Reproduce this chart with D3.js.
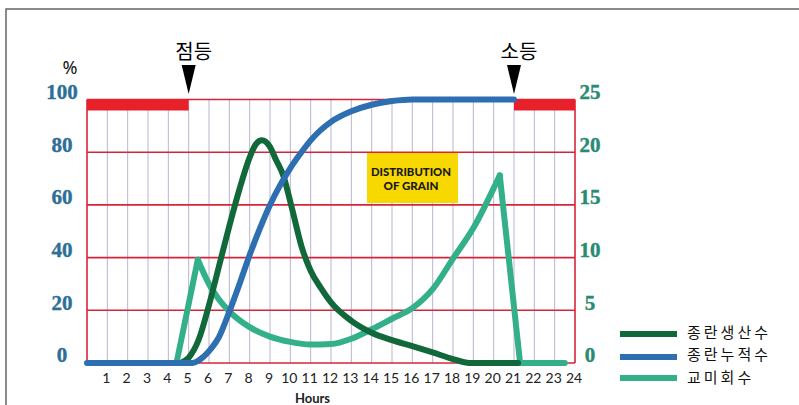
<!DOCTYPE html>
<html><head><meta charset="utf-8">
<script src="https://cdn.jsdelivr.net/npm/d3@7"></script>
<style>
body{margin:0;background:#fff;}
svg{display:block;}
</style></head><body>
<svg id="chart" width="799" height="405"></svg>
<script>
// ---------- data ----------
const hourTicks = d3.range(1, 25);
const pctTicks = [0, 20, 40, 60, 80, 100];
const countTicks = [0, 5, 10, 15, 20, 25];
const seriesNames = ["종란생산수", "종란누적수", "교미회수"];
const seriesColors = ["#10683b", "#2d6fb0", "#33b08a"];

// 종란생산수 (left axis, %)
const productionHours  = [4.6, 5, 5.5, 6, 6.5, 7, 7.5, 8, 8.3, 8.6, 9, 9.3, 9.66, 10.07, 10.56, 11, 11.5, 12, 13, 14, 15, 16, 17, 18, 18.8, 21.2];
const productionValues = [0, 2, 9, 22, 37, 52, 66, 78, 83, 84.5, 82, 77, 71, 59, 44, 35, 28.5, 23, 16, 11.5, 8.7, 6.4, 4, 1.5, 0, 0];

// 종란누적수 (left axis, %)
const cumulativeHours  = [0, 5.2, 5.5, 6, 6.5, 7, 7.5, 8, 8.5, 9, 9.5, 10, 10.5, 11, 12, 13, 14, 15, 16, 21];
const cumulativeValues = [0, 0, 1, 4.5, 10, 19.5, 30, 41, 51, 60, 67.5, 74, 79.5, 84.5, 91.5, 95.5, 98, 99.4, 100, 100];

// 교미회수 (right axis, 0-25)
const matingHours  = [4.4, 5.45, 6, 6.5, 7, 8, 9, 10, 11, 12, 13, 14, 15, 16, 17, 18, 19, 20.3, 21.3, 23.5];
const matingValues = [0, 9.8, 7.5, 6.0, 4.9, 3.4, 2.5, 2.0, 1.75, 1.8, 2.3, 3.2, 4.2, 5.2, 7.0, 9.9, 12.8, 17.8, 0, 0];

const lightOnHour = 5, lightOffHour = 21;
const markerLabels = ["점등", "소등"];
const boxLines = ["DISTRIBUTION", "OF GRAIN"];

// ---------- scales ----------
const svg = d3.select("#chart");
const x = d3.scaleLinear().domain([0, 24]).range([87, 575]);
const yL = d3.scaleLinear().domain([0, 100]).range([363, 99.5]);
const yR = d3.scaleLinear().domain([0, 25]).range([363, 99.5]);

// frame
svg.append("path").attr("d", "M6,405 V9 H799").attr("fill", "none")
  .attr("stroke", "#666").attr("stroke-width", 1.5);

// vertical grid
svg.append("g").selectAll("line").data(d3.range(1, 24)).join("line")
  .attr("x1", d => x(d)).attr("x2", d => x(d))
  .attr("y1", yL(100)).attr("y2", yL(0))
  .attr("stroke", "#b9b5cf").attr("stroke-width", 1);

// yellow box
svg.append("rect").attr("x", 367).attr("y", 153).attr("width", 91).attr("height", 50)
  .attr("fill", "#f7d800");
svg.append("g").selectAll("text").data(boxLines).join("text")
  .attr("x", 411).attr("y", (d, i) => 175.5 + i * 14)
  .attr("text-anchor", "middle")
  .attr("font-family", "Lato, sans-serif").attr("font-weight", 900)
  .attr("font-size", 12).attr("fill", "#1a1a1a")
  .attr("textLength", (d, i) => i === 0 ? 80 : 55).attr("lengthAdjust", "spacingAndGlyphs")
  .text(d => d);

// horizontal red grid
svg.append("g").selectAll("line").data(pctTicks).join("line")
  .attr("x1", x(0)).attr("x2", x(24))
  .attr("y1", d => yL(d)).attr("y2", d => yL(d))
  .attr("stroke", "#d8243a").attr("stroke-width", 1.6);
svg.append("g").selectAll("line").data([0, 24]).join("line")
  .attr("x1", d => x(d)).attr("x2", d => x(d))
  .attr("y1", yL(100)).attr("y2", yL(0))
  .attr("stroke", "#d8243a").attr("stroke-width", 1.6);

// red light bars
const bars = [[0, lightOnHour], [lightOffHour, 24]];
svg.append("g").selectAll("rect").data(bars).join("rect")
  .attr("x", d => x(d[0])).attr("width", d => x(d[1]) - x(d[0]))
  .attr("y", yL(100)).attr("height", 11)
  .attr("fill", "#e8202a");

// series
const lineL = d3.line().x(d => x(d[0])).y(d => yL(d[1])).curve(d3.curveMonotoneX);
const zip = (a, b) => a.map((v, i) => [v, b[i]]);
const g = svg.append("g").attr("fill", "none").attr("stroke-width", 6)
  .attr("stroke-linecap", "round").attr("stroke-linejoin", "round");

// mating: linear rise, smooth middle, linear drop
const mat = zip(matingHours, matingValues);
const lineRLin = d3.line().x(d => x(d[0])).y(d => yR(d[1]));
const lineRCur = d3.line().x(d => x(d[0])).y(d => yR(d[1])).curve(d3.curveMonotoneX);
g.append("path").attr("d", lineRLin(mat.slice(0, 2))).attr("stroke", seriesColors[2]);
g.append("path").attr("d", lineRCur(mat.slice(1, 18))).attr("stroke", seriesColors[2]);
g.append("path").attr("d", lineRLin(mat.slice(17))).attr("stroke", seriesColors[2]);

g.append("path").attr("d", lineL(zip(productionHours, productionValues))).attr("stroke", seriesColors[0]);
g.append("path").attr("d", lineL(zip(cumulativeHours, cumulativeValues))).attr("stroke", seriesColors[1]);

// axes
const axL = svg.append("g").attr("transform", `translate(${x(0)},0)`)
  .call(d3.axisLeft(yL).tickValues(pctTicks).tickSize(0));
axL.select(".domain").remove();
axL.selectAll("text").attr("x", 62 - x(0)).attr("dy", "-0.05em").attr("text-anchor", "middle")
  .attr("font-family", "'Liberation Serif', serif").attr("font-weight", "bold")
  .attr("font-size", 21).attr("fill", "#2d6f96")
  .attr("stroke", "#2d6f96").attr("stroke-width", 0.4);

const axR = svg.append("g").attr("transform", `translate(${x(24)},0)`)
  .call(d3.axisRight(yR).tickValues(countTicks).tickSize(0));
axR.select(".domain").remove();
axR.selectAll("text").attr("x", 590 - x(24)).attr("dy", "-0.05em").attr("text-anchor", "middle")
  .attr("font-family", "'Liberation Serif', serif").attr("font-weight", "bold")
  .attr("font-size", 21).attr("fill", "#2a8a72")
  .attr("stroke", "#2a8a72").attr("stroke-width", 0.4);

const axB = svg.append("g").attr("transform", `translate(0,${yL(0)})`)
  .call(d3.axisBottom(x).tickValues(hourTicks).tickSize(0));
axB.select(".domain").remove();
axB.selectAll("text").attr("y", 20).attr("dx", "-1.5px").attr("dy", 0)
  .attr("font-family", "Lato, sans-serif").attr("font-size", 14).attr("fill", "#222");

svg.append("text").attr("x", 312.5).attr("y", 403).attr("text-anchor", "middle")
  .attr("font-family", "Lato, sans-serif").attr("font-weight", "bold")
  .attr("font-size", 13).attr("fill", "#222").text("Hours");

svg.append("text").attr("x", 70).attr("y", 74).attr("text-anchor", "middle")
  .attr("font-family", "'Noto Sans', sans-serif").attr("font-size", 18).attr("fill", "#111").text("%");

// markers
const markers = [lightOnHour, lightOffHour];
svg.append("g").selectAll("path").data(markers).join("path")
  .attr("d", d => `M${x(d) - 7},65 L${x(d) + 7},65 L${x(d)},94 Z`)
  .attr("fill", "#000");
svg.append("g").selectAll("text").data(markers).join("text")
  .attr("x", d => x(d) + 5).attr("y", 59).attr("text-anchor", "middle")
  .attr("font-family", "'Noto Sans CJK KR', sans-serif").attr("font-size", 20).attr("fill", "#000")
  .text((d, i) => markerLabels[i]);

// legend
const legLineY = [334, 357, 378];
const legTextY = [337.5, 360, 382.5];
const leg = svg.append("g").selectAll("g").data(seriesNames).join("g");
leg.append("line").attr("x1", 620).attr("x2", 677).attr("stroke-width", 6)
  .attr("y1", (d, i) => legLineY[i]).attr("y2", (d, i) => legLineY[i])
  .attr("stroke", (d, i) => seriesColors[i]);
leg.append("text").attr("x", 687).attr("y", (d, i) => legTextY[i])
  .attr("font-family", "'Noto Sans CJK KR', sans-serif")
  .attr("font-size", 15).attr("letter-spacing", "3px").attr("fill", "#111").text(d => d);
</script>
</body></html>
